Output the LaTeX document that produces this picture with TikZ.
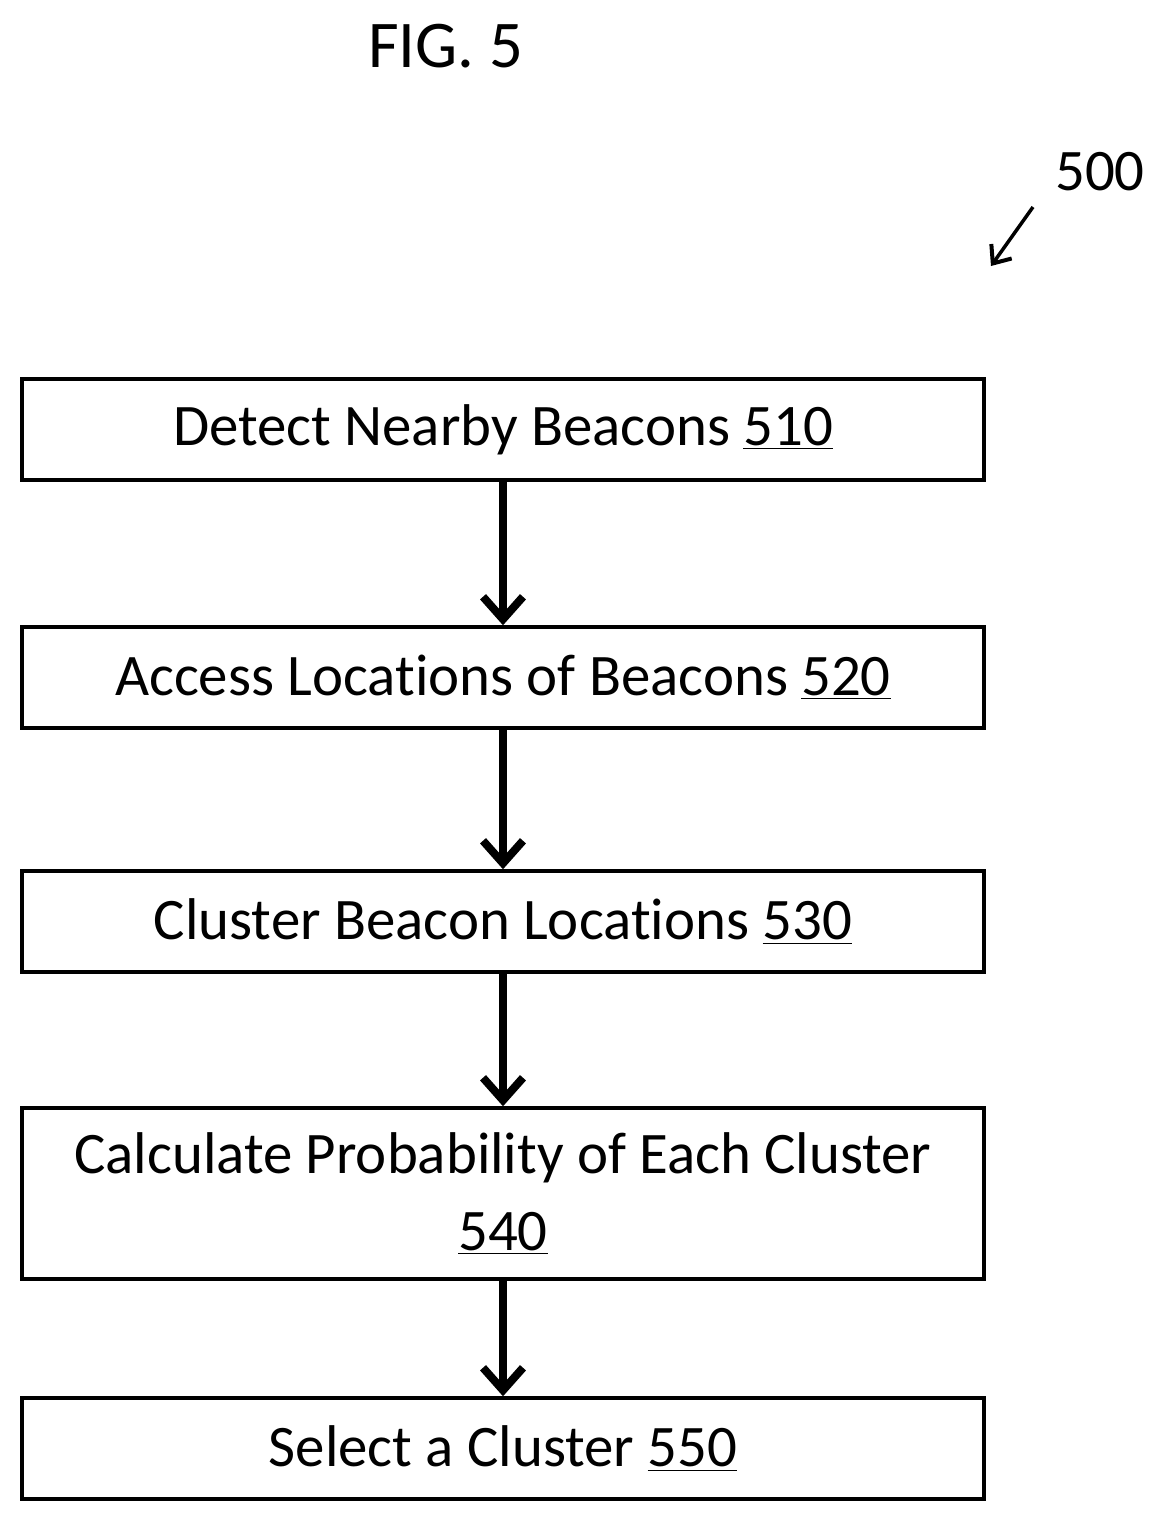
\documentclass[tikz,border=0pt]{standalone}
\usepackage{fontspec}
\setmainfont{Carlito}[RawFeature=-liga]
\usetikzlibrary{arrows.meta}
\begin{document}
\begin{tikzpicture}[x=0.02cm, y=-0.02cm,
        stepbox/.style={rectangle, draw, line width=0.07cm, minimum width=19.24cm, minimum height=2.02cm,
            align=center, font=\fontsize{33.5}{40}\selectfont, inner sep=0pt},
        flow/.style={-{Straight Barb[length=0.45cm, width=0.8cm, line width=0.16cm]}, line width=0.15cm},
    ]
        \useasboundingbox (0,0) rectangle (1162,1522);
        % title and reference numeral
        \node[font=\fontsize{38}{44}\selectfont] (title) at (446,46) {FIG. 5};
        \node[font=\fontsize{33.5}{40}\selectfont] (ref) at (1100,172) {500};
        \coordinate (refend) at (991,266);
        \draw[-{Straight Barb[length=0.3cm, width=0.5cm, line width=0.08cm]}, line width=0.07cm] (1033,207) -- (refend);

        % steps
        \node[stepbox] (detect) at (503,429.5) {Detect Nearby Beacons \underline{510}};
        \node[stepbox] (access) at (503,677.5) {Access Locations of Beacons \underline{520}};
        \node[stepbox] (cluster) at (503,921.5) {Cluster Beacon Locations \underline{530}};
        \node[stepbox, minimum height=3.42cm] (calc) at (503,1193.5) {Calculate Probability of Each Cluster\\[4pt]\underline{540}};
        \node[stepbox] (select) at (503,1448.5) {Select a Cluster \underline{550}};

        % arrows
        \draw[flow] (detect) -- (access);
        \draw[flow] (access) -- (cluster);
        \draw[flow] (cluster) -- (calc);
        \draw[flow] (calc) -- (select);
    \end{tikzpicture}
\end{document}
